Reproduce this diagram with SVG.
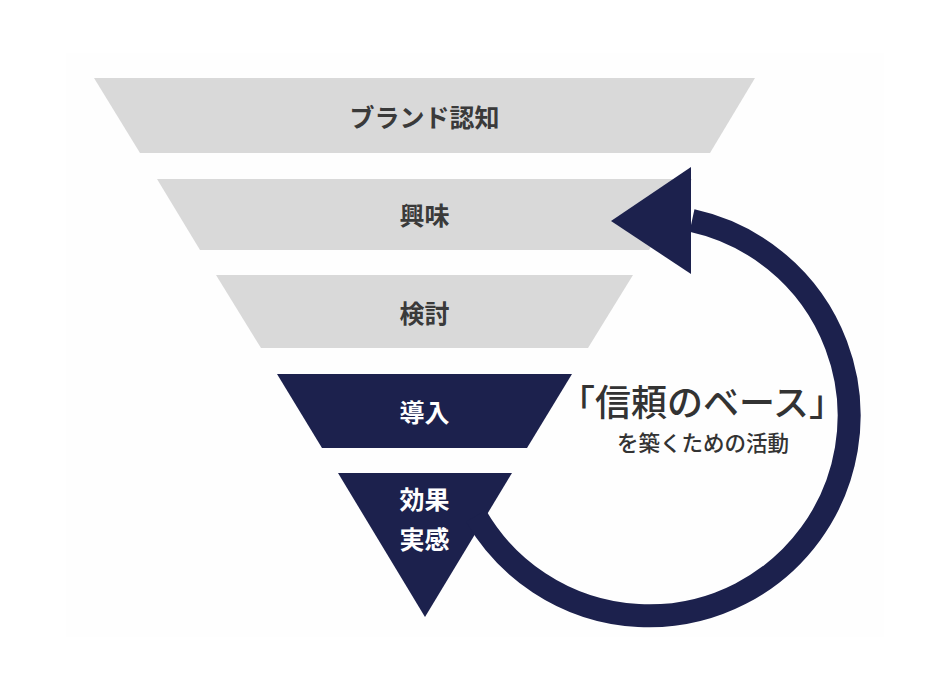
<svg xmlns="http://www.w3.org/2000/svg" width="946" height="682" viewBox="0 0 946 682">
  <style>
    .gray { fill: #d9d9d9; }
    .navy { fill: #1c214d; }
    .lbl { font-family: "Noto Sans CJK JP", "Noto Sans", sans-serif; font-weight: 700; font-size: 25px; text-anchor: middle; dominant-baseline: central; }
    .dark { fill: #3a3a3a; }
    .light { fill: #ffffff; }
    .big { font-family: "Noto Sans CJK JP", "Noto Sans", sans-serif; font-weight: 500; font-size: 36px; fill: #333333; text-anchor: middle; dominant-baseline: central; }
    .sub { font-family: "Noto Sans CJK JP", "Noto Sans", sans-serif; font-weight: 500; font-size: 21.5px; fill: #333333; text-anchor: middle; dominant-baseline: central; }
  </style>
  <rect x="0" y="0" width="946" height="682" fill="#ffffff"/>
  <rect x="66" y="53" width="818" height="584" fill="#fefefe"/>

  <g id="node-brand">
    <polygon class="gray" points="94,78 755,78 710,153 140,153"/>
    <text class="lbl dark" x="424.5" y="116">ブランド認知</text>
  </g>
  <g id="node-interest">
    <polygon class="gray" points="157,179 692,179 649,250 200,250"/>
    <text class="lbl dark" x="424.5" y="214">興味</text>
  </g>
  <g id="node-consider">
    <polygon class="gray" points="216,275 633,275 588,348 261,348"/>
    <text class="lbl dark" x="424.5" y="312">検討</text>
  </g>
  <g id="node-adopt">
    <polygon class="navy" points="277,374 572,374 527,448 322,448"/>
    <text class="lbl light" x="424.5" y="411">導入</text>
  </g>
  <g id="node-effect">
    <polygon class="navy" points="338,473 512,473 425,617"/>
    <text class="lbl light" x="424.5" y="498">効果</text>
    <text class="lbl light" x="424.5" y="538">実感</text>
  </g>

  <g id="connectors">
    <path d="M 476 516 A 200 200 0 1 0 692 220.5" fill="none" stroke="#1c214d" stroke-width="23"/>
    <polygon class="navy" points="611,221 691,167 691,274"/>
  </g>

  <g id="caption">
    <text class="big" x="702" y="400">「信頼のベース」</text>
    <text class="sub" x="703" y="441">を築くための活動</text>
  </g>
</svg>
